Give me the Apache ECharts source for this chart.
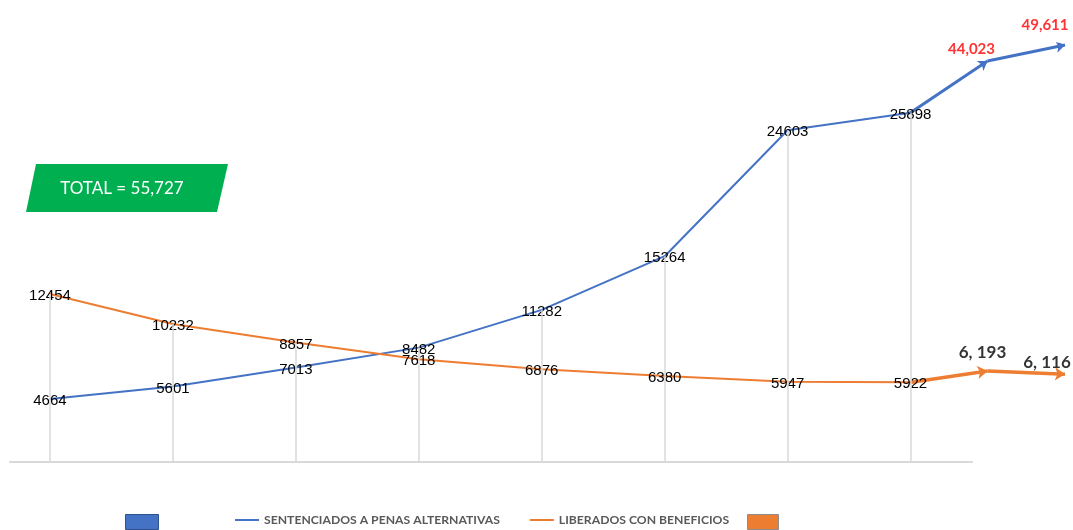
<!DOCTYPE html>
<html>
<head>
<meta charset="utf-8">
<style>
  html, body { margin: 0; padding: 0; background: #fff; }
  #chart { width: 1073px; height: 530px; }
</style>
<script src="https://cdn.jsdelivr.net/npm/echarts@6/dist/echarts.min.js"></script>
</head>
<body>
<div id="chart"></div>
<script>
// periods shown in the chart (no visible labels, index only)
const periods = [0, 1, 2, 3, 4, 5, 6, 7];
const sentenciados = [4664, 5601, 7013, 8482, 11282, 15264, 24603, 25898];
const liberados = [12454, 10232, 8857, 7618, 6876, 6380, 5947, 5922];
// projected values drawn as arrows after the last period
const sentenciadosProy = [44023, 49611];
const liberadosProy = [6193, 6116];
const totalText = 'TOTAL = 55,727';

const BLUE = '#4472C4';
const ORANGE = '#ED7D31';
const labelFont = { fontFamily: 'Liberation Sans, Arial, sans-serif', fontSize: 15, color: '#000' };

const chart = echarts.init(document.getElementById('chart'));

const dropLines = periods.map((p, i) => [
  { coord: [p, 0] },
  { coord: [p, Math.max(sentenciados[i], liberados[i])] },
]);

const segs = (start, vals) => vals.map((v, i) => ({
  coords: [[i, i === 0 ? start : vals[i - 1]], [i + 1, v]],
}));

const option = {
  animation: false,
  backgroundColor: '#fff',
  grid: [
    { left: 10, right: 101, top: 44, bottom: 68 },
    { left: 910, right: 8, top: 44, bottom: 68 },
  ],
  xAxis: [
    {
      type: 'value', gridIndex: 0, min: -0.325, max: 7.5,
      axisLine: { show: true, onZero: false, lineStyle: { color: '#d9d9d9', width: 2 } },
      axisTick: { show: false }, axisLabel: { show: false }, splitLine: { show: false },
    },
    {
      type: 'category', gridIndex: 1, boundaryGap: false, data: ['', '', ''],
      show: false,
    },
  ],
  yAxis: [
    { type: 'value', gridIndex: 0, min: 0, max: 31000, show: false, splitLine: { show: false } },
    { type: 'value', gridIndex: 1, min: -95800, max: 49960, show: false, splitLine: { show: false } },
    { type: 'value', gridIndex: 1, min: 4048, max: 13900, show: false, splitLine: { show: false } },
  ],
  legend: [
    {
      data: ['proy-sentenciados'], left: 125, top: 514, padding: 0,
      icon: 'rect', itemWidth: 33, itemHeight: 15,
      itemStyle: { color: BLUE, borderColor: '#2F528F', borderWidth: 1, opacity: 1 },
      formatter: () => '', selectedMode: false,
    },
    {
      data: ['SENTENCIADOS A PENAS ALTERNATIVAS', 'LIBERADOS CON BENEFICIOS'],
      left: 234, top: 514, padding: 0, itemWidth: 24, itemHeight: 15, itemGap: 29,
      selectedMode: false,
      itemStyle: { opacity: 0 },
      textStyle: { fontFamily: 'Lato', fontWeight: 'bold', fontSize: 12.2, color: '#595959' },
    },
    {
      data: ['proy-liberados'], left: 747, top: 514, padding: 0,
      icon: 'rect', itemWidth: 31, itemHeight: 15,
      itemStyle: { color: ORANGE, borderColor: '#8c8c8c', borderWidth: 1, opacity: 1 },
      formatter: () => '', selectedMode: false,
    },
  ],
  graphic: [
    {
      type: 'polygon',
      shape: { points: [[36, 164], [228, 164], [217, 212], [26, 212]] },
      style: { fill: '#00B050' },
    },
    {
      type: 'text', x: 122, y: 189,
      style: {
        text: totalText, fill: '#fff', font: '17px Lato',
        textAlign: 'center', textVerticalAlign: 'middle',
      },
    },
  ],
  series: [
    {
      name: 'drops', type: 'line', xAxisIndex: 0, yAxisIndex: 0, data: [], z: 1,
      markLine: {
        silent: true, symbol: ['none', 'none'], label: { show: false },
        lineStyle: { color: '#d9d9d9', width: 1.5, type: 'solid' },
        emphasis: { disabled: true },
        data: dropLines,
      },
    },
    {
      name: 'SENTENCIADOS A PENAS ALTERNATIVAS', type: 'line', z: 3,
      xAxisIndex: 0, yAxisIndex: 0,
      data: sentenciados.map((v, i) => [periods[i], v]),
      symbol: 'circle', symbolSize: 1, itemStyle: { color: BLUE },
      lineStyle: { color: BLUE, width: 2 },
      label: { show: true, position: 'inside', offset: [0, 2], ...labelFont, formatter: p => p.value[1] },
    },
    {
      name: 'LIBERADOS CON BENEFICIOS', type: 'line', z: 3,
      xAxisIndex: 0, yAxisIndex: 0,
      data: liberados.map((v, i) => [periods[i], v]),
      symbol: 'circle', symbolSize: 1, itemStyle: { color: ORANGE },
      lineStyle: { color: ORANGE, width: 2 },
      label: { show: true, position: 'inside', offset: [0, 2], ...labelFont, formatter: p => p.value[1] },
    },
    {
      name: 'flecha-sentenciados', type: 'lines', coordinateSystem: 'cartesian2d',
      xAxisIndex: 1, yAxisIndex: 1, z: 3,
      symbol: ['none', 'arrow'], symbolSize: 9,
      lineStyle: { color: BLUE, width: 3, opacity: 1 },
      data: segs(sentenciados[sentenciados.length - 1], sentenciadosProy),
    },
    {
      name: 'flecha-liberados', type: 'lines', coordinateSystem: 'cartesian2d',
      xAxisIndex: 1, yAxisIndex: 2, z: 3,
      symbol: ['none', 'arrow'], symbolSize: 10,
      lineStyle: { color: ORANGE, width: 3.5, opacity: 1 },
      data: segs(liberados[liberados.length - 1], liberadosProy),
    },
    {
      name: 'proy-sentenciados', type: 'scatter', xAxisIndex: 1, yAxisIndex: 1, z: 4,
      data: sentenciadosProy.map((v, i) => ({
        value: [i + 1, v],
        label: { offset: i === 0 ? [-16, 1] : [-20, -7] },
      })),
      symbolSize: 1, itemStyle: { color: 'rgba(0,0,0,0)' },
      label: {
        show: true, position: 'top',
        fontFamily: 'Lato', fontWeight: 'bold', fontSize: 15, color: '#FF0000',
        formatter: p => p.value[1].toLocaleString('en-US'),
      },
    },
    {
      name: 'proy-liberados', type: 'scatter', xAxisIndex: 1, yAxisIndex: 2, z: 4,
      data: liberadosProy.map((v, i) => ({
        value: [i + 1, v],
        label: { offset: i === 0 ? [-5, -4] : [-18, 2] },
      })),
      symbolSize: 1, itemStyle: { color: 'rgba(0,0,0,0)' },
      label: {
        show: true, position: 'top',
        fontFamily: 'Lato', fontWeight: 'bold', fontSize: 17, color: '#000',
        formatter: p => {
          const v = p.value[1];
          return Math.floor(v / 1000) + ', ' + String(v % 1000).padStart(3, '0');
        },
      },
    },
  ],
};

chart.setOption(option);
</script>
</body>
</html>
